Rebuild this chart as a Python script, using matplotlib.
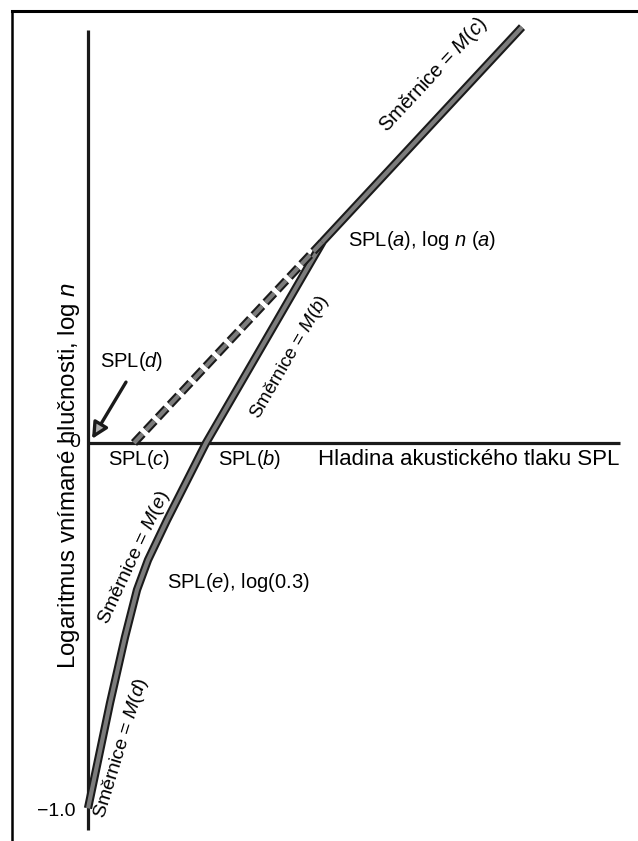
import matplotlib
matplotlib.use('Agg')
import matplotlib.pyplot as plt
import matplotlib.patheffects as pe
from matplotlib import font_manager
from matplotlib.lines import Line2D

# loudness function: SPL (dB from the y axis) vs log of perceived loudness
spl_curve = [0.0, 2.2, 3.7, 4.9, 6.0, 7.9, 11.8, 23.5, 43.4]
logn_curve = [-0.99, -0.705, -0.526, -0.398, -0.317, -0.209, 0.0, 0.547, 1.127]

# dashed extension of the upper slope down to SPL(c)
spl_dash = [4.6, 23.5]
logn_dash = [0.0, 0.547]

# arrow pointing at SPL(d)
arrow_tail = (3.8, 0.165)
arrow_head = (0.4, 0.011)

ytick_vals = [0.0, -1.0]
ytick_text = ['0', '\u22121.0']

# fonts
names = {f.name for f in font_manager.fontManager.ttflist}
if 'Liberation Sans Narrow' in names:
    narrow, narrow_size = 'Liberation Sans Narrow', 16
else:
    narrow, narrow_size = 'Liberation Sans', 14.5
plt.rcParams['font.family'] = ['Liberation Sans', 'DejaVu Sans']
plt.rcParams['mathtext.fontset'] = 'custom'
plt.rcParams['mathtext.rm'] = 'Liberation Sans'
plt.rcParams['mathtext.it'] = 'Liberation Sans:italic'
plt.rcParams['lines.scale_dashes'] = False

fig = plt.figure(figsize=(6.38, 8.41), dpi=100)
ax = fig.add_axes([0, 0, 1, 1])
ax.set_xlim(-8.8, 55.0)
ax.set_ylim(-1.0786, 1.2005)
ax.axis('off')

# frame of the scanned page
fig.add_artist(Line2D([0.0188, 1.0], [0.9869, 0.9869], color='black', lw=2.2))
fig.add_artist(Line2D([0.0188, 0.0188], [0.0, 0.9869], color='black', lw=1.8))

# axes
ax.plot([0, 0], [-1.05, 1.119], color='#1a1a1a', lw=2.3, solid_capstyle='butt')
ax.plot([0, 53.2], [0, 0], color='#1a1a1a', lw=2.3, solid_capstyle='butt')

outline = [pe.Stroke(linewidth=6.0, foreground='#1a1a1a'), pe.Normal()]
ax.plot(spl_curve, logn_curve, color='#7c7c7c', lw=3.0, solid_joinstyle='round',
        solid_capstyle='butt', path_effects=outline)
ax.plot(spl_dash, logn_dash, color='#7c7c7c', lw=3.0, linestyle=(0, (9.0, 3.6)),
        dash_capstyle='butt', path_effects=outline)

ax.annotate('', xy=arrow_head, xytext=arrow_tail,
            arrowprops=dict(arrowstyle='-|>', color='#1a1a1a', fc='#b0b0b0',
                            lw=2.4, mutation_scale=24, shrinkA=0, shrinkB=0))

for v, t in zip(ytick_vals, ytick_text):
    ax.text(-0.8 if v == 0 else -1.3, v, t, ha='right', va='center', fontsize=14)

ax.text(-1.9, -0.087, 'Logaritmus vnímané hlučnosti, log $n$', rotation=90,
        ha='center', va='center', fontsize=17.4)
ax.text(23.0, -0.0434, 'Hladina akustického tlaku SPL', ha='left', va='center', fontsize=16)

ax.text(1.2, 0.2195, 'SPL($d$)', family=narrow, fontsize=narrow_size, ha='left', va='center')
ax.text(5.1, -0.046, 'SPL($c$)', family=narrow, fontsize=narrow_size, ha='center', va='center')
ax.text(16.2, -0.046, 'SPL($b$)', family=narrow, fontsize=narrow_size, ha='center', va='center')
ax.text(7.9, -0.377, 'SPL($e$), log(0.3)', family=narrow, fontsize=narrow_size, ha='left', va='center')
ax.text(26.0, 0.55, 'SPL($a$), log $n$ ($a$)', family=narrow, fontsize=narrow_size,
        ha='left', va='center')

# slope labels
ax.text(34.5, 0.997, 'Směrnice = $M(c)$', rotation=47, rotation_mode='anchor',
        ha='center', va='center', fontsize=14.5)
ax.text(20.2, 0.233, 'Směrnice = $M(b)$', rotation=60, rotation_mode='anchor',
        ha='center', va='center', fontsize=13.5)
ax.text(4.6, -0.312, 'Směrnice = $M(e)$', rotation=65, rotation_mode='anchor',
        ha='center', va='center', fontsize=14)
ax.text(3.3, -0.827, 'Směrnice = $M(d)$', rotation=73, rotation_mode='anchor',
        ha='center', va='center', fontsize=14)

fig.savefig('out.png', dpi=100)
